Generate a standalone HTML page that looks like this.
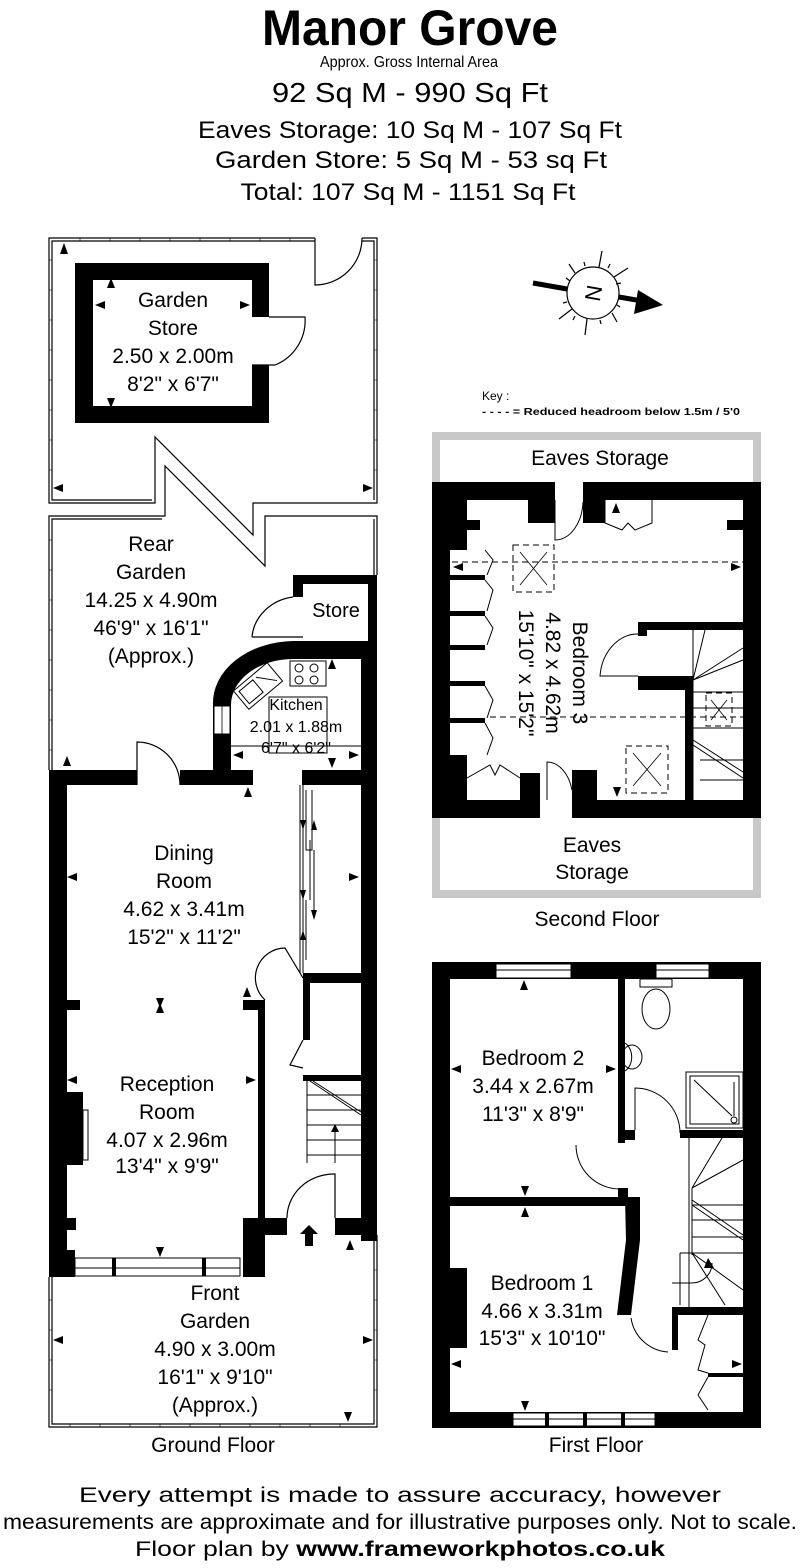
<!DOCTYPE html>
<html><head><meta charset="utf-8"><style>
html,body{margin:0;padding:0;background:#fff;}
svg{display:block;}
text{font-family:"Liberation Sans",Arial,sans-serif;fill:#000;}
</style></head><body>
<svg width="800" height="1568" viewBox="0 0 800 1568" xmlns="http://www.w3.org/2000/svg">
<!-- Header -->
<text x="410" y="45" font-size="50" font-weight="bold" text-anchor="middle" textLength="296" lengthAdjust="spacingAndGlyphs">Manor Grove</text>
<text x="409" y="67" font-size="16" text-anchor="middle" textLength="178" lengthAdjust="spacingAndGlyphs">Approx. Gross Internal Area</text>
<text x="410" y="102" font-size="28" text-anchor="middle" textLength="276" lengthAdjust="spacingAndGlyphs">92 Sq M  -  990 Sq Ft</text>
<text x="410" y="138" font-size="24" text-anchor="middle" textLength="424" lengthAdjust="spacingAndGlyphs">Eaves Storage: 10 Sq M - 107 Sq Ft</text>
<text x="411" y="168" font-size="24" text-anchor="middle" textLength="392" lengthAdjust="spacingAndGlyphs">Garden Store: 5 Sq M - 53 sq Ft</text>
<text x="408" y="200" font-size="24" text-anchor="middle" textLength="335" lengthAdjust="spacingAndGlyphs">Total: 107 Sq M - 1151 Sq Ft</text>

<!-- ============ GROUND FLOOR ============ -->
<g fill="none" stroke="#000" stroke-width="1.2">
  <path d="M315,238 L49,238 L49,503 L155,503 L155,437 L253,535 L253,503 L377,503 L377,238 L362,238"/>
  <path d="M315,241 L52,241 L52,500 L152,500 M374,500 L374,241 L362,241"/>
  <path d="M315,238 L315,285 A47,47 0 0 0 362,238"/>
  <path d="M49,770 L49,516 L165,516 L165,466 L265,566 L265,516 L377,516 L377,575"/>
  <path d="M52,770 L52,519 L162,519 M374,519 L374,575"/>
  <path d="M49,1277 L49,1427 L377,1427 L377,1235"/>
  <path d="M52,1277 L52,1424 L374,1424 L374,1240"/>
</g>
<g stroke="#000" stroke-width="0.6">
  <path d="M49,260 h3 M49,290 h3 M49,320 h3 M49,350 h3 M49,380 h3 M49,410 h3 M49,440 h3 M49,470 h3 M374,260 h3 M374,290 h3 M374,320 h3 M374,350 h3 M374,380 h3 M374,410 h3 M374,440 h3 M374,470 h3 M49,540 h3 M49,570 h3 M49,600 h3 M49,630 h3 M49,660 h3 M49,690 h3 M49,720 h3 M49,750 h3 M49,1300 h3 M49,1330 h3 M49,1360 h3 M49,1390 h3 M374,1270 h3 M374,1300 h3 M374,1330 h3 M374,1360 h3 M374,1390 h3"/>
  <path d="M70,1424 v3 M100,1424 v3 M130,1424 v3 M160,1424 v3 M190,1424 v3 M220,1424 v3 M250,1424 v3 M280,1424 v3 M310,1424 v3 M340,1424 v3 M80,238 v3 M110,238 v3 M140,238 v3 M170,238 v3 M200,238 v3 M230,238 v3 M260,238 v3 M290,238 v3"/>
</g>

<path fill="#000" fill-rule="evenodd" d="M75,263 H269 V317 H252 V365 H269 V423 H75 Z M93,280 V406 H252 V280 Z"/>
<path fill="none" stroke="#000" stroke-width="1.2" d="M252,365 L275,365 M269,317 L305,317 A48,48 0 0 1 275,365"/>

<g fill="#000">
  <rect x="293" y="575" width="84" height="9"/>
  <rect x="293" y="575" width="10" height="22"/>
  <rect x="368" y="575" width="9" height="84"/>
  <rect x="293" y="641" width="84" height="18"/>
  <path d="M213,705 A82,62 0 0 1 293,641 L293,659 A62,46 0 0 0 231,705 Z"/>
  <rect x="213" y="703" width="18" height="82"/>
  <rect x="361" y="641" width="16" height="600"/>
  <rect x="49" y="770" width="88" height="15"/>
  <rect x="180" y="770" width="73" height="15"/>
  <rect x="302" y="770" width="75" height="15"/>
  <rect x="49" y="770" width="18" height="507"/>
  <rect x="67" y="1000" width="13" height="10"/>
  <rect x="243" y="1000" width="22" height="10"/>
  <rect x="258" y="1000" width="7" height="230"/>
  <rect x="67" y="1218" width="9" height="12"/>
  <rect x="67" y="1092" width="16" height="73"/>
  <rect x="303" y="973" width="58" height="10"/>
  <rect x="303" y="983" width="7" height="57"/>
  <rect x="303" y="1075" width="58" height="6"/>
  <rect x="243" y="1218" width="22" height="59"/>
  <rect x="265" y="1218" width="22" height="17"/>
  <rect x="335" y="1218" width="26" height="17"/>
  <rect x="49" y="1250" width="26" height="27"/>
</g>
<rect x="214" y="706" width="16" height="28" fill="#fff" stroke="#000" stroke-width="1"/>
<line x1="222" y1="706" x2="222" y2="734" stroke="#000" stroke-width="0.8"/>
<path fill="none" stroke="#000" stroke-width="1.2" d="M252,637 L303,637 M252,637 A48,44 0 0 1 293,597"/>
<g fill="none" stroke="#000" stroke-width="1">
  <rect x="290" y="661" width="36" height="25"/>
  <circle cx="299" cy="668" r="4"/><circle cx="314" cy="668" r="4"/><circle cx="299" cy="680" r="4"/><circle cx="314" cy="680" r="4"/>
  <g transform="translate(258,686) rotate(-40)"><rect x="-22" y="-12" width="44" height="24"/><rect x="-18" y="-8" width="18" height="16"/><line x1="4" y1="-8" x2="18" y2="8"/></g>
  <rect x="269" y="697" width="58" height="56"/>
  <line x1="231" y1="746" x2="361" y2="746"/>
</g>
<path fill="none" stroke="#000" stroke-width="1.2" d="M137,785 L137,742 A43,43 0 0 1 180,785"/>
<g fill="none" stroke="#000" stroke-width="1">
  <path d="M300,785 V973 M303,785 V973"/>
  <path d="M306,790 v60 l6,0 v-60 M310,840 v60 M306,900 v60 M314,850 v60"/>
</g>
<g fill="#000">
  <polygon points="300,820 306,820 303,830"/><polygon points="311,830 317,830 314,820"/><polygon points="300,890 306,890 303,900"/><polygon points="311,910 317,910 314,920"/><polygon points="300,940 306,940 303,930"/>
</g>
<path fill="none" stroke="#000" stroke-width="1.2" d="M265,1000 A30,30 0 0 1 285,948 L303,978"/>
<path fill="none" stroke="#000" stroke-width="1.2" d="M303,1040 L290,1065 L303,1068"/>
<g fill="none" stroke="#000" stroke-width="1">
  <path d="M307,1081 V1163 M307,1095 H361 M307,1110 H361 M307,1125 H361 M307,1140 H361 M307,1155 H361"/>
  <path d="M310,1081 L361,1115 M313,1081 L361,1112"/>
  <path d="M335,1163 V1130"/>
</g>
<polygon points="331,1132 339,1132 335,1124" fill="#000"/>
<path fill="none" stroke="#000" stroke-width="1.2" d="M335,1218 L335,1174 A47,44 0 0 0 287,1218"/>
<polygon points="309,1225 318,1234 313,1234 313,1246 305,1246 305,1234 300,1234" fill="#000"/>
<rect x="75" y="1258" width="165" height="18" fill="#fff" stroke="#000" stroke-width="1"/>
<line x1="75" y1="1268" x2="240" y2="1268" stroke="#000" stroke-width="1"/>
<rect x="112" y="1258" width="4" height="18" fill="#000"/><rect x="202" y="1258" width="4" height="18" fill="#000"/>
<rect x="67" y="1250" width="8" height="27" fill="#000"/>
<rect x="83" y="1110" width="5" height="50" fill="#fff" stroke="#000" stroke-width="1"/>
<g fill="#000">
  <polygon points="64,243 68,254 60,254"/><polygon points="53,488 63,484 63,492"/><polygon points="373,488 363,484 363,492"/>
  <polygon points="111,278 115,288 107,288"/><polygon points="111,408 115,398 107,398"/>
  <polygon points="95,305 105,301 105,309"/><polygon points="250,305 240,301 240,309"/>
  <polygon points="67,756 71,766 63,766"/>
  <polygon points="248,787 252,797 244,797"/><polygon points="332,659 336,669 328,669"/>
  <polygon points="233,755 243,751 243,759"/><polygon points="359,755 349,751 349,759"/><polygon points="332,768 336,758 328,758"/>
  <polygon points="67,877 77,873 77,881"/><polygon points="359,877 349,873 349,881"/>
  <polygon points="247,987 251,997 243,997"/><polygon points="160,1003 164,1013 156,1013"/><polygon points="160,1008 164,998 156,998"/>
  <polygon points="67,1080 77,1076 77,1084"/><polygon points="256,1080 246,1076 246,1084"/>
  <polygon points="160,1257 164,1247 156,1247"/><polygon points="350,1240 354,1250 346,1250"/>
  <polygon points="53,1340 63,1336 63,1344"/><polygon points="373,1340 363,1336 363,1344"/><polygon points="348,1422 352,1412 344,1412"/>
</g>

<g font-size="21" text-anchor="middle">
  <text x="173" y="307">Garden</text><text x="173" y="335">Store</text><text x="173" y="363">2.50 x 2.00m</text><text x="173" y="391">8'2" x 6'7"</text>
  <text x="151" y="551">Rear</text><text x="151" y="579">Garden</text><text x="151" y="607">14.25 x 4.90m</text><text x="151" y="635">46'9" x 16'1"</text><text x="151" y="663">(Approx.)</text>
  <text x="336" y="617" font-size="20">Store</text>
  <text x="296" y="710" font-size="16">Kitchen</text><text x="296" y="732" font-size="16">2.01 x 1.88m</text><text x="296" y="753" font-size="16">6'7" x 6'2"</text>
  <text x="184" y="860">Dining</text><text x="184" y="888">Room</text><text x="184" y="916">4.62 x 3.41m</text><text x="184" y="944">15'2" x 11'2"</text>
  <text x="167" y="1091">Reception</text><text x="167" y="1119">Room</text><text x="167" y="1147">4.07 x 2.96m</text><text x="167" y="1173">13'4" x 9'9"</text>
  <text x="215" y="1300">Front</text><text x="215" y="1328">Garden</text><text x="215" y="1356">4.90 x 3.00m</text><text x="215" y="1384">16'1" x 9'10"</text><text x="215" y="1412">(Approx.)</text>
  <text x="213" y="1452">Ground Floor</text>
</g>

<!-- ============ COMPASS & KEY ============ -->
<g stroke="#000" fill="none">
  <line x1="533" y1="283" x2="567" y2="289" stroke-width="5"/>
  <line x1="619" y1="297" x2="642" y2="301" stroke-width="5"/>
  <circle cx="593" cy="293" r="26" stroke-width="1.2"/>
  <g stroke-width="1.2">
    <line x1="599" y1="267" x2="602" y2="251"/><line x1="587" y1="319" x2="585" y2="335"/>
    <line x1="575" y1="273" x2="569" y2="264"/><line x1="612" y1="313" x2="617" y2="322"/>
    <line x1="614" y1="277" x2="628" y2="268"/><line x1="572" y1="309" x2="559" y2="319"/>
    <line x1="585" y1="266" x2="584" y2="262"/><line x1="608" y1="268" x2="610" y2="264"/>
    <line x1="616" y1="284" x2="621" y2="283"/><line x1="567" y1="302" x2="563" y2="303"/>
    <line x1="570" y1="281" x2="566" y2="278"/><line x1="617" y1="305" x2="620" y2="307"/>
    <line x1="600" y1="320" x2="601" y2="324"/><line x1="575" y1="316" x2="573" y2="320"/>
  </g>
</g>
<polygon points="638,290 663,305 634,314" fill="#000"/>
<text x="593" y="300" font-size="22" text-anchor="middle" transform="rotate(100 593 293)" font-family="Liberation Serif,serif">N</text>
<text x="482" y="400" font-size="12">Key :</text>
<text x="482" y="415" font-size="10" font-weight="bold" textLength="258" lengthAdjust="spacingAndGlyphs">- - - -  =  Reduced  headroom below 1.5m / 5'0</text>

<!-- ============ SECOND FLOOR ============ -->
<rect x="436" y="436" width="321" height="458" fill="none" stroke="#c8c8c8" stroke-width="8"/>
<rect x="432" y="482" width="329" height="336" fill="#000"/>
<g fill="#fff">
  <rect x="467" y="500" width="276" height="300"/>
  <rect x="450" y="550" width="40" height="205"/>
  <rect x="555" y="482" width="28" height="20"/>
  <rect x="540" y="798" width="32" height="22"/>
</g>
<g fill="#000">
  <rect x="528" y="500" width="27" height="23"/>
  <rect x="583" y="500" width="22" height="23"/>
  <rect x="467" y="520" width="13" height="10"/>
  <rect x="727" y="520" width="16" height="10"/>
  <rect x="450" y="575" width="35" height="5"/><rect x="450" y="611" width="35" height="5"/><rect x="450" y="645" width="35" height="5"/><rect x="450" y="681" width="35" height="5"/><rect x="450" y="718" width="35" height="5"/>
  <rect x="450" y="755" width="17" height="45"/>
  <rect x="520" y="773" width="20" height="27"/>
  <rect x="572" y="770" width="25" height="30"/>
  <rect x="638" y="622" width="105" height="8"/>
  <rect x="638" y="622" width="9" height="14"/>
  <rect x="638" y="676" width="55" height="14"/>
  <rect x="685" y="676" width="8" height="124"/>
</g>
<g fill="none" stroke="#000" stroke-width="1">
  <path d="M605,500 V523 L622,530 L628,523 L635,530 L652,523 V500"/>
  <path d="M485,550 L493,560 L487,575 M485,580 L493,590 L487,611 M485,616 L493,628 L487,645 M485,686 L493,700 L487,718 M485,723 L493,738 L487,755"/>
  <path d="M467,778 L490,765 L495,775 L500,765 L520,778"/>
  <path d="M555,500 V540 A28,40 0 0 0 583,502"/>
  <path d="M547,800 V762 A26,38 0 0 1 572,790"/>
  <path d="M638,676 L600,676 A38,46 0 0 1 638,634"/>
  <path d="M693,630 V800 M693,680 L705,630 M693,680 L743,648 M693,680 L743,660 M693,692 H743 M693,708 H743 M693,728 H743 M693,745 L743,778 M693,740 L743,772 M700,760 H743 M700,780 H743"/>
</g>
<g fill="none" stroke="#000" stroke-width="1" stroke-dasharray="6,4">
  <line x1="452" y1="562" x2="743" y2="562"/>
  <line x1="490" y1="717" x2="743" y2="717"/>
  <rect x="513" y="545" width="41" height="47"/>
  <rect x="626" y="746" width="42" height="47"/>
  <rect x="706" y="693" width="26" height="33"/>
</g>
<g fill="none" stroke="#000" stroke-width="0.8">
  <path d="M520,552 L547,585 M547,552 L520,585 M633,753 L661,786 M661,753 L633,786 M711,700 L727,720 M727,700 L711,720"/>
</g>
<g fill="#000">
  <polygon points="453,567 463,563 463,571"/><polygon points="741,567 731,563 731,571"/>
  <polygon points="616,503 620,513 612,513"/><polygon points="617,797 621,787 613,787"/>
</g>
<g font-size="21" text-anchor="middle">
  <text x="600" y="465">Eaves Storage</text>
  <text x="592" y="852">Eaves</text><text x="592" y="879">Storage</text>
  <text x="597" y="926">Second Floor</text>
  <g transform="translate(553,673) rotate(90)">
    <text x="0" y="-20">Bedroom 3</text>
    <text x="0" y="7">4.82 x 4.62m</text>
    <text x="0" y="34">15'10" x 15'2"</text>
  </g>
</g>

<!-- ============ FIRST FLOOR ============ -->
<rect x="432" y="962" width="329" height="466" fill="#000"/>
<rect x="450" y="979" width="293" height="433" fill="#fff"/>
<g fill="#fff" stroke="#000" stroke-width="1">
  <rect x="496" y="964" width="75" height="14"/>
  <rect x="656" y="964" width="53" height="14"/>
  <rect x="513" y="1413" width="142" height="13"/>
</g>
<g stroke="#000" stroke-width="1">
  <line x1="496" y1="970" x2="571" y2="970"/><line x1="656" y1="970" x2="709" y2="970"/>
  <line x1="513" y1="1419" x2="655" y2="1419"/>
</g>
<g fill="#000">
  <rect x="545" y="1413" width="4" height="13"/><rect x="583" y="1413" width="4" height="13"/><rect x="621" y="1413" width="4" height="13"/>
  <rect x="618" y="979" width="7" height="164"/>
  <rect x="618" y="1130" width="17" height="10"/>
  <rect x="680" y="1130" width="63" height="8"/>
  <rect x="618" y="1188" width="10" height="10"/>
  <rect x="450" y="1197" width="190" height="9"/>
  <polygon points="625,1197 640,1197 640,1240 631,1315 617,1315 626,1240"/>
  <rect x="672" y="1307" width="71" height="8"/>
  <rect x="672" y="1307" width="6" height="43"/>
  <rect x="450" y="1268" width="17" height="80"/>
  <rect x="708" y="1373" width="35" height="4"/>
</g>
<g fill="none" stroke="#000" stroke-width="1">
  <rect x="640" y="979" width="32" height="8"/>
  <ellipse cx="656" cy="1009" rx="14" ry="20"/>
  <path d="M625,1043 A13,16 0 0 1 625,1071"/>
  <ellipse cx="632" cy="1057" rx="10" ry="12"/>
  <rect x="686" y="1072" width="57" height="56"/>
  <rect x="690" y="1076" width="49" height="48"/>
  <line x1="694" y1="1080" x2="732" y2="1116"/><line x1="734" y1="1082" x2="734" y2="1116"/>
  <circle cx="734" cy="1120" r="3"/>
  <path d="M635,1130 V1088 A45,45 0 0 1 680,1133"/>
  <path d="M576,1145 A44,44 0 0 0 620,1189"/>
  <path d="M631,1318 A40,40 0 0 0 668,1352"/>
  <path d="M689,1138 V1307 M692,1188 V1255 M692,1188 L722,1138 M692,1188 L743,1160 M692,1200 L743,1235 M692,1205 L743,1240 M692,1205 H743 M692,1220 H743 M692,1237 H743 M692,1253 H743 M692,1253 L725,1305 M692,1253 L743,1290 M680,1253 H692 M680,1253 V1305 M672,1283 H692 M692,1283 A20,20 0 0 0 712,1263"/>
  <path d="M708,1315 L698,1340 L705,1345 L698,1370 L708,1373 M708,1377 L698,1395 L708,1410"/>
</g>
<polygon points="708,1258 714,1268 704,1268" fill="#000"/>
<g fill="#000">
  <polygon points="524,980 528,990 520,990"/><polygon points="451,1069 461,1065 461,1073"/><polygon points="616,1069 606,1065 606,1073"/>
  <polygon points="525,1196 529,1186 521,1186"/><polygon points="525,1207 529,1217 521,1217"/>
  <polygon points="451,1364 461,1360 461,1368"/><polygon points="742,1364 732,1360 732,1368"/><polygon points="525,1411 529,1401 521,1401"/>
</g>
<g font-size="21" text-anchor="middle">
  <text x="533" y="1065">Bedroom 2</text><text x="533" y="1093">3.44 x 2.67m</text><text x="533" y="1121">11'3" x 8'9"</text>
  <text x="542" y="1290">Bedroom 1</text><text x="542" y="1318">4.66 x 3.31m</text><text x="542" y="1345">15'3" x 10'10"</text>
  <text x="596" y="1452">First Floor</text>
</g>

<g font-size="21" text-anchor="middle">
  <text x="400" y="1502" textLength="642" lengthAdjust="spacingAndGlyphs">Every attempt is made to assure accuracy, however</text>
  <text x="400" y="1529" textLength="794" lengthAdjust="spacingAndGlyphs">measurements are approximate and for illustrative purposes only. Not to scale.</text>
  <text x="400" y="1556" textLength="530" lengthAdjust="spacingAndGlyphs">Floor plan by  <tspan font-weight="bold">www.frameworkphotos.co.uk</tspan></text>
</g>
</svg>
</body></html>
